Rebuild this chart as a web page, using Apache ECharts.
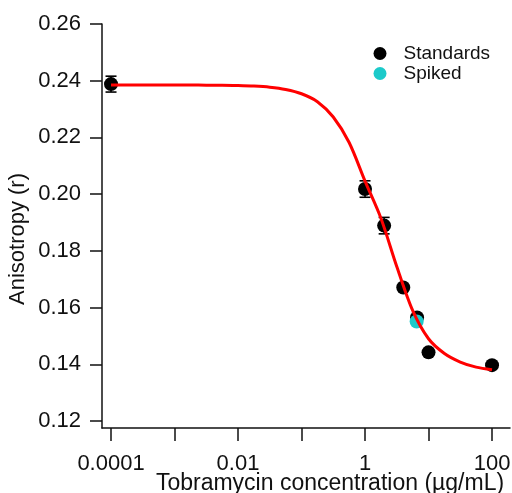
<!DOCTYPE html>
<html>
<head>
<meta charset="utf-8">
<script src="https://cdn.jsdelivr.net/npm/echarts@6/dist/echarts.min.js"></script>
<style>
  html, body { margin: 0; padding: 0; background: #fff; }
  #main { width: 512px; height: 493px; }
</style>
</head>
<body>
<div id="main"></div>
<script>
// standards (concentration in ug/mL, anisotropy, error)
var stdConc = [0.0001, 1, 2, 4, 6.6, 10, 100];
var stdAniso = [0.2388, 0.2018, 0.1889, 0.1671, 0.1565, 0.1442, 0.1397];
var stdErr = [0.0028, 0.0029, 0.0029, 0, 0, 0, 0];

// spiked sample
var spikedConc = [6.5];
var spikedAniso = [0.1551];

// fitted curve (quarter decade steps)
var fitConc = [0.0001, 0.000178, 0.000316, 0.000562, 0.001, 0.00178, 0.00316, 0.00562, 0.01, 0.0178, 0.0316, 0.0562,
  0.1, 0.178, 0.316, 0.562, 1, 1.78, 3.16, 5.62, 10, 17.8, 31.6, 56.2, 100];
var fitAniso = [0.2385, 0.2385, 0.2385, 0.2385, 0.2385, 0.2385, 0.2384, 0.2384, 0.2383, 0.2381, 0.2377, 0.2369,
  0.2354, 0.2326, 0.2272, 0.2182, 0.2046, 0.1915, 0.1745, 0.1590, 0.1490, 0.1438, 0.1408, 0.1390, 0.1381];

var xTicks = [0.0001, 0.001, 0.01, 0.1, 1, 10, 100];
var xLabels = [0.0001, 0.01, 1, 100];
var yTicks = [0.12, 0.14, 0.16, 0.18, 0.20, 0.22, 0.24, 0.26];

var chart = echarts.init(document.getElementById('main'));

function pairs(xs, ys) {
  var out = [];
  for (var i = 0; i < xs.length; i++) out.push([xs[i], ys[i]]);
  return out;
}

var errData = [];
for (var i = 0; i < stdConc.length; i++) {
  if (stdErr[i] > 0) errData.push([stdConc[i], stdAniso[i] - stdErr[i], stdAniso[i] + stdErr[i]]);
}

var font = 'Liberation Sans, Arial, sans-serif';

var option = {
  animation: false,
  grid: { left: 102, right: 2, top: 24, bottom: 65, outerBoundsMode: 'none', containLabel: false },
  legend: {
    orient: 'vertical',
    left: 373.5,
    top: 44,
    padding: 0,
    itemGap: 1,
    itemWidth: 13,
    itemHeight: 13,
    icon: 'circle',
    data: ['Standards', 'Spiked'],
    textStyle: { fontFamily: font, fontSize: 19, color: '#111', padding: [0, 0, 0, 12], lineHeight: 19 }
  },
  xAxis: {
    type: 'log',
    logBase: 10,
    min: 7.21e-5,
    max: 191.9,
    splitLine: { show: false },
    axisLine: { lineStyle: { color: '#111', width: 1.5 } },
    axisTick: { customValues: xTicks, length: 13, lineStyle: { color: '#111', width: 1.5 } },
    axisLabel: {
      customValues: xLabels,
      margin: 25,
      fontFamily: font, fontSize: 22, color: '#111',
      formatter: function (v) { return String(v); }
    },
    name: 'Tobramycin concentration (µg/mL)',
    nameLocation: 'middle',
    nameGap: 44,
    nameMoveOverlap: false,
    nameTextStyle: { fontFamily: font, fontSize: 23, color: '#111', padding: [0, 0, 0, 48] }
  },
  yAxis: {
    type: 'value',
    min: 0.11753,
    max: 0.26,
    splitLine: { show: false },
    axisLine: { show: true, lineStyle: { color: '#111', width: 1.5 } },
    axisTick: { show: true, customValues: yTicks, length: 12, lineStyle: { color: '#111', width: 1.5 } },
    axisLabel: {
      customValues: yTicks,
      margin: 21,
      fontFamily: font, fontSize: 22, color: '#111',
      formatter: function (v) { return v.toFixed(2); }
    },
    name: 'Anisotropy (r)',
    nameLocation: 'middle',
    nameGap: 73,
    nameMoveOverlap: false,
    nameTextStyle: { fontFamily: font, fontSize: 22, color: '#111', padding: [0, 26, 0, 0] }
  },
  series: [
    {
      name: 'Standards',
      type: 'scatter',
      symbolSize: 14,
      itemStyle: { color: '#000', opacity: 1 },
      data: pairs(stdConc, stdAniso),
      z: 2
    },
    {
      name: 'errors',
      type: 'custom',
      data: errData,
      z: 3,
      renderItem: function (params, api) {
        var x = api.value(0);
        var lo = api.coord([x, api.value(1)]);
        var hi = api.coord([x, api.value(2)]);
        var w = 5.5;
        var st = { stroke: '#000', lineWidth: 1.6 };
        return {
          type: 'group',
          children: [
            { type: 'line', shape: { x1: lo[0], y1: lo[1], x2: hi[0], y2: hi[1] }, style: st },
            { type: 'line', shape: { x1: lo[0] - w, y1: lo[1], x2: lo[0] + w, y2: lo[1] }, style: st },
            { type: 'line', shape: { x1: hi[0] - w, y1: hi[1], x2: hi[0] + w, y2: hi[1] }, style: st }
          ]
        };
      }
    },
    {
      name: 'Spiked',
      type: 'scatter',
      symbolSize: 14,
      itemStyle: { color: '#1ccaca', opacity: 1 },
      data: pairs(spikedConc, spikedAniso),
      z: 4
    },
    {
      name: 'fit',
      type: 'line',
      smooth: 0.3,
      showSymbol: false,
      symbol: 'none',
      lineStyle: { color: '#ff0000', width: 3 },
      data: pairs(fitConc, fitAniso),
      z: 5
    }
  ]
};

chart.setOption(option);
</script>
</body>
</html>
